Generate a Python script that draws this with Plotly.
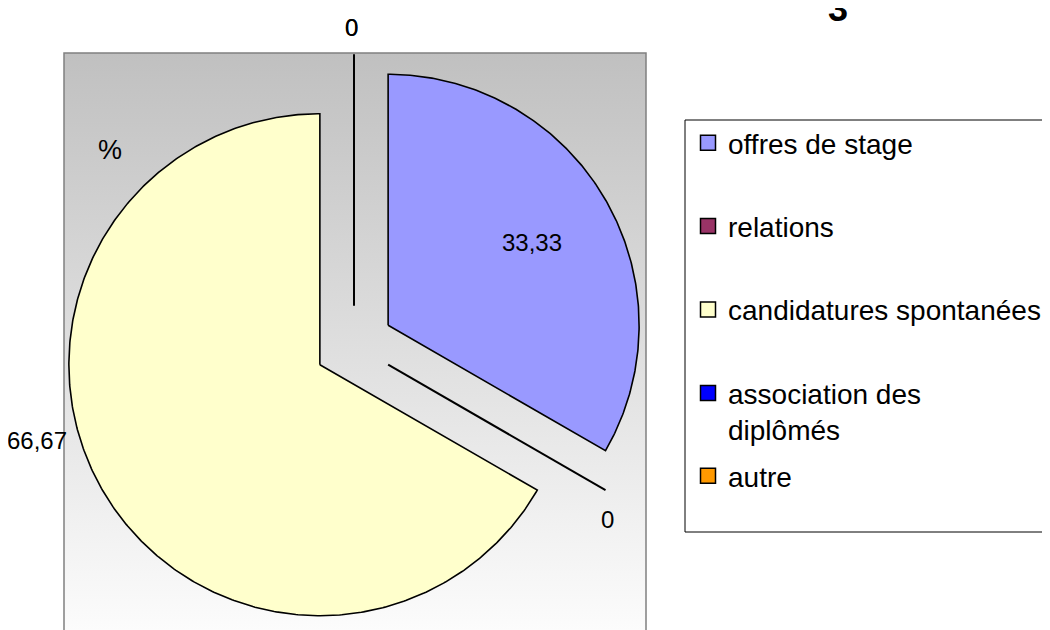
import math
import plotly.graph_objects as go

# ---------------- data ----------------
categories = ["offres de stage", "relations", "candidatures spontanées",
              "association des diplômés", "autre"]
legend_labels = ["offres de stage", "relations", "candidatures spontanées",
                 "association des<br>diplômés", "autre"]
values = [33.33, 0, 66.67, 0, 0]
title_text = "3"
unit_text = "%"

# ---------------- style ----------------
colors = ["#9999FF", "#993366", "#FFFFCC", "#0000FF", "#FF9900"]
W, H = 1050, 630
OFF = 8                                # page body margin of the browser
FW, FH = W - OFF, H - OFF              # figure size so it ends at the window edge
PL, PR, PT, PB = 64, 646, 53, 630      # plot-area box in window pixels
CX, CY = 354, 345                      # pie centre in window pixels
RPX = 251                              # pie radius in pixels
PULL = 0.157                           # explosion, fraction of radius
FONT = "Arial, Liberation Sans, sans-serif"

label_style = [
    dict(mode="inside", r=0.66, xa="center", ya="middle", dx=0, dy=0),
    dict(mode="edge", xa="center", ya="top", dx=2, dy=-14),
    dict(mode="edge", xa="right", ya="middle", dx=-34, dy=50),
    dict(mode="edge", xa="center", ya="bottom", dx=-2, dy=12),
    dict(mode="edge", xa="center", ya="bottom", dx=-2, dy=12),
]

# axis ranges in "radius" units, centre at (0, 0)
xr = [(PL - CX) / RPX, (PR - CX) / RPX]
yr = [(CY - PB) / RPX, (CY - PT) / RPX]


def to_paper(x, y):
    return (x - xr[0]) / (xr[1] - xr[0]), (y - yr[0]) / (yr[1] - yr[0])


def px_to_paper(px, py):
    return (px - PL) / (PR - PL), (PB - py) / (PB - PT)


fig = go.Figure()

# gradient background of the plot area
ybot = (CY - 660) / RPX
fig.add_trace(go.Scatter(
    x=[xr[0], xr[1], xr[1], xr[0], xr[0]],
    y=[yr[1], yr[1], ybot, ybot, yr[1]],
    mode="lines", line=dict(width=0), fill="toself",
    fillgradient=dict(type="vertical",
                      colorscale=[[0, "#FFFFFF"], [1, "#C0C0C0"]],
                      start=ybot, stop=yr[1]),
    hoverinfo="skip", showlegend=False))

total = sum(values)
cum = 0.0
annotations = []
for i, (cat, v) in enumerate(zip(categories, values)):
    a0 = 90 - 360 * cum / total
    a1 = 90 - 360 * (cum + v) / total
    mid = math.radians((a0 + a1) / 2)
    ox, oy = PULL * math.cos(mid), PULL * math.sin(mid)
    if v > 0:
        n = max(2, int(abs(a1 - a0) * 2))
        angs = [math.radians(a0 + (a1 - a0) * k / n) for k in range(n + 1)]
        xs = [ox] + [ox + math.cos(a) for a in angs] + [ox]
        ys = [oy] + [oy + math.sin(a) for a in angs] + [oy]
        fig.add_trace(go.Scatter(
            x=xs, y=ys, mode="lines", fill="toself", fillcolor=colors[i],
            line=dict(color="black", width=1.6), hoverinfo="skip",
            showlegend=False))
    else:
        a = math.radians(a0)
        fig.add_trace(go.Scatter(
            x=[ox, ox + math.cos(a)], y=[oy, oy + math.sin(a)], mode="lines",
            line=dict(color="black", width=2), hoverinfo="skip",
            showlegend=False))
    st = label_style[i]
    r = st["r"] if st["mode"] == "inside" else 1.0
    lx, ly = ox + r * math.cos(mid), oy + r * math.sin(mid)
    px, py = to_paper(lx, ly)
    annotations.append(dict(
        x=px, y=py, xref="paper", yref="paper", text=f"{v:g}".replace(".", ","),
        showarrow=False, xanchor=st["xa"], yanchor=st["ya"],
        xshift=st["dx"], yshift=st["dy"],
        font=dict(family=FONT, size=24, color="black")))
    cum += v

# legend entries
for i, name in enumerate(legend_labels):
    fig.add_trace(go.Scatter(
        x=[None], y=[None], mode="markers", name=name,
        marker=dict(symbol="square", size=15, color=colors[i],
                    line=dict(color="black", width=1.5)),
        legend="legend2" if i == len(legend_labels) - 1 else "legend",
        legendgroup=f"g{i}", showlegend=True))

# title and unit text
tx, ty = px_to_paper(838, 9)
annotations.append(dict(x=tx, y=ty, xref="paper", yref="paper", text=f"<b>{title_text}</b>",
                        showarrow=False, xanchor="center", yanchor="middle",
                        font=dict(family=FONT, size=36, color="black")))
ux, uy = px_to_paper(110, 150)
annotations.append(dict(x=ux, y=uy, xref="paper", yref="paper", text=unit_text,
                        showarrow=False, xanchor="center", yanchor="middle",
                        font=dict(family=FONT, size=27, color="black")))

lx0, ly0 = px_to_paper(685, 120)
lx1, ly1 = px_to_paper(1060, 532)
bx0, by0 = px_to_paper(PL, PB + 5)
bx1, by1 = px_to_paper(PR, PT)

leg_common = dict(bgcolor="rgba(0,0,0,0)", borderwidth=0, valign="top",
                  font=dict(family=FONT, size=28, color="black"),
                  xanchor="left", yanchor="top", traceorder="grouped")
lgx, lgy = px_to_paper(688, 118)
lg2x, lg2y = px_to_paper(688, 451)

fig.update_layout(
    width=FW, height=FH,
    margin=dict(l=PL - OFF, r=FW - (PR - OFF), t=PT - OFF, b=FH - (PB - OFF), pad=0),
    paper_bgcolor="white", plot_bgcolor="white",
    xaxis=dict(range=xr, visible=False, fixedrange=True),
    yaxis=dict(range=yr, visible=False, fixedrange=True),
    annotations=annotations,
    shapes=[
        dict(type="rect", xref="paper", yref="paper", x0=bx0, y0=by0, x1=bx1, y1=by1,
             line=dict(color="#808080", width=1.5), fillcolor="rgba(0,0,0,0)", layer="above"),
        dict(type="rect", xref="paper", yref="paper", x0=lx0, y0=ly0, x1=lx1, y1=ly1,
             line=dict(color="#000000", width=1), fillcolor="rgba(0,0,0,0)", layer="above"),
    ],
    legend=dict(x=lgx, y=lgy, tracegroupgap=44, **leg_common),
    legend2=dict(x=lg2x, y=lg2y, **leg_common),
    hovermode=False,
)

fig.write_html("out.html")
